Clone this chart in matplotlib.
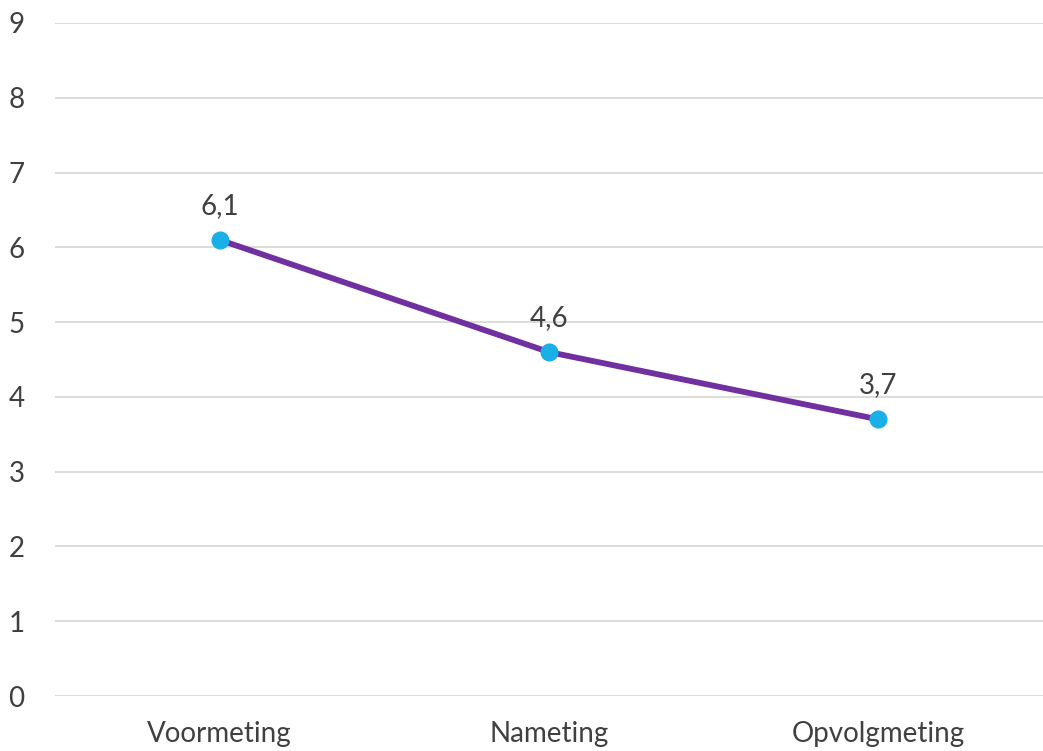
import matplotlib
matplotlib.use('Agg')
import matplotlib.pyplot as plt

categories = ['Voormeting', 'Nameting', 'Opvolgmeting']
values     = [6.1, 4.6, 3.7]
labels     = ['6,1', '4,6', '3,7']
yticks     = list(range(0, 10))

plt.rcParams['font.family'] = ['Lato', 'DejaVu Sans']

fig = plt.figure(figsize=(10.43, 7.51), dpi=100)
ax  = fig.add_axes([0.0527, 0.0732, 0.947, 0.8962])

X = list(range(len(categories)))
ax.plot(X, values, color='#7030A0', lw=4.2, zorder=3, solid_capstyle='round')
ax.plot(X, values, 'o', color='#1AAFE6', ms=12, zorder=4)

for x, v, l in zip(X, values, labels):
    ax.annotate(l, (x, v), xytext=(0, 15), textcoords='offset points',
                ha='center', va='bottom', fontsize=20, color='#404040')

ax.set_xlim(-0.5, 2.5)
ax.set_ylim(0, 9)
ax.set_yticks(yticks)
ax.set_yticklabels([str(t) for t in yticks])
ax.set_xticks(X)
ax.set_xticklabels(categories)
ax.grid(axis='y', color='#D9D9D9', lw=1.3)
ax.set_axisbelow(True)
for s in ax.spines.values():
    s.set_visible(False)
ax.tick_params(axis='both', length=0, labelsize=20, colors='#404040')
ax.tick_params(axis='y', pad=22)
ax.tick_params(axis='x', pad=18)

fig.savefig('out.png', dpi=100)
